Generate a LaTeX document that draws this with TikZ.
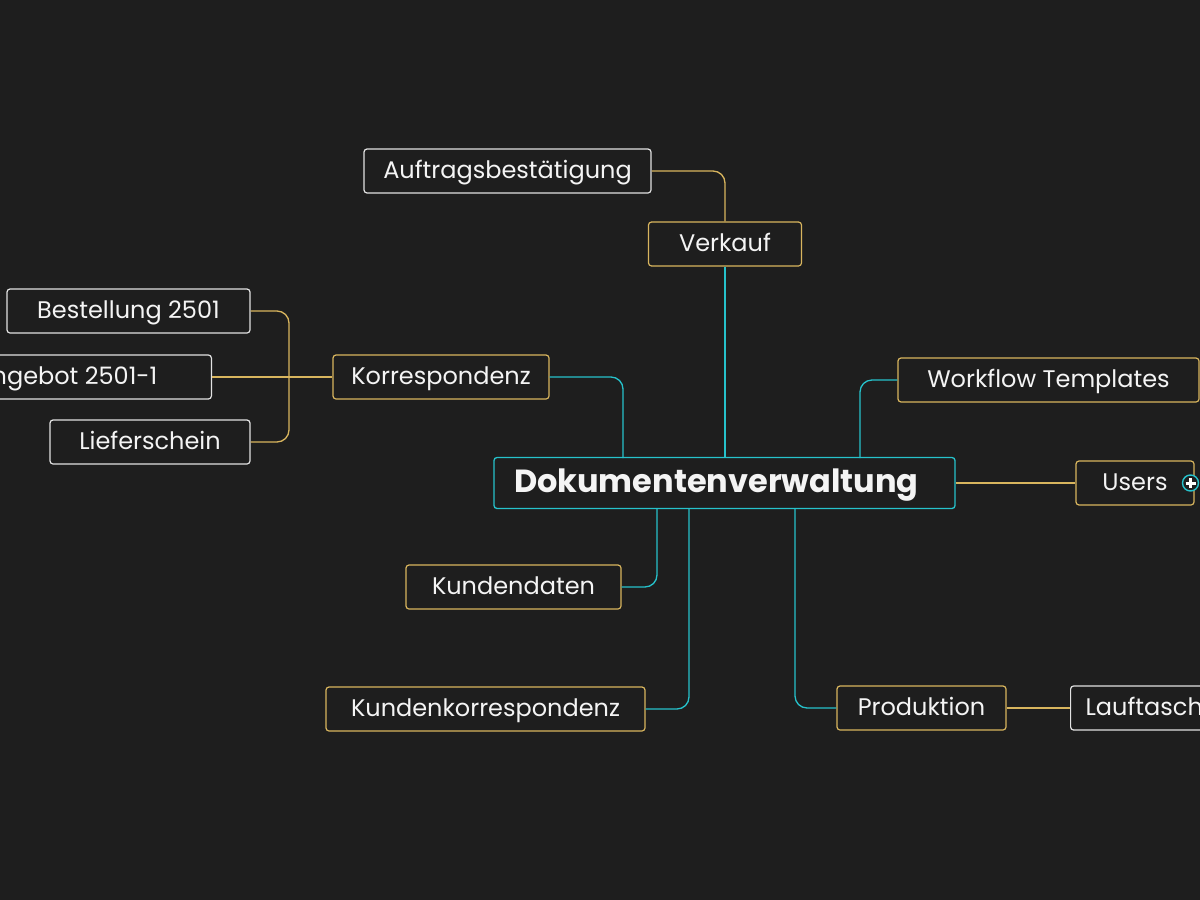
\documentclass[tikz,border=0pt]{standalone}
\usepackage{fontspec}
\setmainfont{Poppins}
\begin{document}
\begin{tikzpicture}[x=1pt,y=-1pt,
  every node/.style={font=\fontsize{24}{28}\selectfont, text=txt},
  goldbox/.style={draw=gold, line width=1.2pt, rounded corners=3pt, fill=bg, minimum height=44pt, inner sep=0pt, text height=20pt, text depth=4.6pt},
  whitebox/.style={draw=wbord, line width=1.2pt, rounded corners=3pt, fill=bg, minimum height=44pt, inner sep=0pt, text height=20pt, text depth=4.6pt},
  cyanline/.style={draw=cyanc, line width=1.3pt, rounded corners=12pt},
  goldline/.style={draw=gold, line width=1.3pt, rounded corners=12pt},
]
\definecolor{bg}{HTML}{1E1E1E}
\definecolor{gold}{HTML}{D8B55E}
\definecolor{cyanc}{HTML}{26C2CB}
\definecolor{wbord}{HTML}{E2E2E2}
\definecolor{txt}{HTML}{F4F4F4}
\fill[bg] (0,0) rectangle (1200,900);
\useasboundingbox (0,0) rectangle (1200,900);

% nodes
\node[draw=cyanc, line width=1.3pt, rounded corners=3pt, fill=bg, minimum height=51pt,
      inner xsep=20pt, inner ysep=0pt, text width=421pt, align=left,
      text height=26pt, text depth=6.4pt,
      font=\fontsize{32}{36}\selectfont\bfseries] (c) at (724.5,483) {Dokumentenverwaltung};

\node[goldbox, minimum width=153pt] (verkauf) at (725,244) {Verkauf};
\node[whitebox, minimum width=287pt] (auftrag) at (507.5,171) {Auftragsbestätigung};
\node[goldbox, minimum width=216pt] (korr) at (441,377) {Korrespondenz};
\node[whitebox, minimum width=243pt] (best) at (128.5,311) {Bestellung 2501};
\node[whitebox, anchor=east, inner xsep=54pt] (ang) at (212,377) {Angebot 2501-1};
\node[whitebox, minimum width=200pt] (lief) at (150,442) {Lieferschein};
\node[goldbox, minimum width=301pt] (wf) at (1048.5,380) {Workflow Templates};
\node[goldbox, minimum width=118pt] (users) at (1135,483) {Users\hspace{8pt}};
\node[goldbox, minimum width=215pt] (kd) at (513.5,587) {Kundendaten\hspace{8pt}};
\node[goldbox, minimum width=319pt] (kk) at (485.5,709) {Kundenkorrespondenz};
\node[goldbox, minimum width=169pt] (prod) at (921.5,708) {Produktion};
\node[whitebox, anchor=west, inner xsep=15pt] (lauf) at (1070,708) {Lauftasche\hspace{20pt}};

% connectors (level 1, cyan)
\draw[cyanline, rounded corners=0pt] (verkauf.south) -- (c.north -| verkauf.south);
\draw[cyanline] (korr.east) -- (623,377) -- (623,458);
\draw[cyanline] (860,458) -- (860,380) -- (wf.west);
\draw[goldline, rounded corners=0pt] (c.east) -- (users.west);
\draw[cyanline] (657,509) -- (657,587) -- (kd.east);
\draw[cyanline] (689,509) -- (689,709) -- (kk.east);
\draw[cyanline] (795,509) -- (795,708) -- (prod.west);

% level 2 (gold)
\draw[goldline] (auftrag.east) -- (725,171) -- (verkauf.north);
\draw[goldline] (best.east) -- (289,311) -- (289,377);
\draw[goldline] (lief.east) -- (289,442) -- (289,377);
\draw[goldline, rounded corners=0pt] (ang.east) -- (korr.west);
\draw[goldline, rounded corners=0pt] (prod.east) -- (lauf.west);

% expand marker on Users
\node[circle, draw=cyanc, line width=1.4pt, fill=bg, minimum size=16pt, inner sep=0pt] (plus) at (1190.5,483) {};
\draw[white, line width=3pt] ([xshift=-5pt]plus.center) -- ([xshift=5pt]plus.center)
      ([yshift=-5pt]plus.center) -- ([yshift=5pt]plus.center);
\end{tikzpicture}
\end{document}
